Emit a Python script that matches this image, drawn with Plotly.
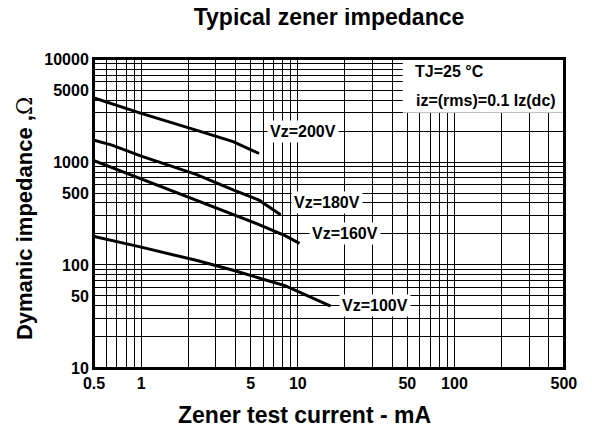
import math
import plotly.graph_objects as go

# ---- data ----
x_200 = [0.5, 1, 2.24, 3.86, 5.65]
y_200 = [4200, 2970, 2040, 1580, 1210]

x_180 = [0.5, 0.65, 1, 2.24, 3.86, 5.65, 7.77]
y_180 = [1630, 1460, 1140, 760, 537, 426, 307]

x_160 = [0.5, 1, 2.24, 3.86, 5.65, 8.35, 10.25]
y_160 = [1030, 682, 426, 307, 247, 192, 162]

x_100 = [0.5, 1, 2.24, 3.86, 5.79, 8.35, 16.2]
y_100 = [189, 149, 111, 89, 74, 62.6, 39.8]

series_names = ["Vz=200V", "Vz=180V", "Vz=160V", "Vz=100V"]

x_label_vals = [0.5, 1, 5, 10, 50, 100, 500]
x_label_text = ["0.5", "1", "5", "10", "50", "100", "500"]
x_grid_vals = [0.6, 0.7, 0.8, 0.9, 1, 2, 3, 4, 5, 6, 7, 8, 9, 10,
               20, 30, 40, 50, 60, 70, 80, 90, 100, 200, 300, 400]

y_label_vals = [10, 50, 100, 500, 1000, 5000, 10000]
y_label_text = ["10", "50", "100", "500", "1000", "5000", "10000"]
y_grid_vals = [10, 20, 30, 40, 50, 60, 70, 80, 90,
               100, 200, 300, 400, 500, 600, 700, 800, 900,
               1000, 2000, 3000, 4000, 5000, 6000, 7000, 8000, 9000, 10000]

# grid lines the curve labels sit on
label_y_vals = [2000, 400, 200, 40]

FONT = "Arial, Liberation Sans, sans-serif"

# the html page body has an 8px default margin; size the figure to fit the window
W, H, PAGE_OFFSET = 584, 424, 8


def ticks(grid, labels, texts):
    vals = sorted(set(grid) | set(labels))
    txt = [texts[labels.index(v)] if v in labels else "" for v in vals]
    return vals, txt


xtv, xtt = ticks(x_grid_vals, x_label_vals, x_label_text)
ytv, ytt = ticks(y_grid_vals, y_label_vals, y_label_text)

fig = go.Figure()
for xs, ys, name in [(x_200, y_200, series_names[0]), (x_180, y_180, series_names[1]),
                     (x_160, y_160, series_names[2]), (x_100, y_100, series_names[3])]:
    fig.add_trace(go.Scatter(x=xs, y=ys, mode="lines", name=name,
                             line=dict(color="black", width=3),
                             showlegend=False, hoverinfo="skip"))

fig.update_layout(
    width=W, height=H,
    margin=dict(l=94 - PAGE_OFFSET, r=W - (564 - PAGE_OFFSET), t=59 - PAGE_OFFSET,
                b=H - (368 - PAGE_OFFSET)),
    paper_bgcolor="white", plot_bgcolor="white",
    font=dict(family=FONT, color="black", size=16, weight="bold"),
    title=dict(text="Typical zener impedance", x=0.5, xref="paper", xanchor="center",
               y=1 - (17 - PAGE_OFFSET) / H, yref="container", yanchor="middle",
               font=dict(size=23, family=FONT, weight="bold")),
    xaxis=dict(type="log", range=[math.log10(0.5) - 0.0005, math.log10(500) + 0.0005],
               tickmode="array", tickvals=xtv, ticktext=xtt, automargin=False,
               showgrid=True, gridcolor="black", gridwidth=1,
               showline=True, linecolor="black", linewidth=2, mirror=True,
               ticks="", zeroline=False,
               tickfont=dict(size=16, family=FONT, weight="bold")),
    yaxis=dict(type="log", range=[1 - 0.0005, 4 + 0.0005],
               tickmode="array", tickvals=ytv, ticktext=ytt, automargin=False,
               showgrid=True, gridcolor="black", gridwidth=1,
               showline=True, linecolor="black", linewidth=2, mirror=True,
               ticks="", zeroline=False,
               tickfont=dict(size=16, family=FONT, weight="bold")),
)

# axis titles
fig.add_annotation(text="Zener test current - mA", xref="paper", yref="paper",
                   x=0.448, y=-0.152, xanchor="center", yanchor="middle", showarrow=False,
                   font=dict(size=23, family=FONT, weight="bold"))
fig.add_annotation(text="Dymanic impedance ,<span style='font-family:DejaVu Serif;font-weight:normal'>Ω</span>",
                   xref="paper", yref="paper", x=-0.149, y=0.485, textangle=-90,
                   xanchor="center", yanchor="middle", showarrow=False,
                   font=dict(size=22, family=FONT, weight="bold"))

# white box behind the test-condition note
fig.add_shape(type="rect", xref="paper", yref="paper",
              x0=0.657, x1=1, y0=(math.log10(3000) - 1) / 3, y1=1,
              fillcolor="white", line=dict(width=0), layer="above")
# plot border on top
fig.add_shape(type="rect", xref="paper", yref="paper", x0=0, x1=1, y0=0, y1=1,
              line=dict(color="black", width=2), fillcolor="rgba(0,0,0,0)", layer="above")

fig.add_annotation(text="TJ=25 °C", xref="paper", yref="paper", x=0.679, y=0.958,
                   xanchor="left", yanchor="middle", showarrow=False,
                   font=dict(size=16, family=FONT, weight="bold"))
fig.add_annotation(text="iz=(rms)=0.1 Iz(dc)", xref="paper", yref="paper", x=0.681, y=0.867,
                   xanchor="left", yanchor="middle", showarrow=False,
                   font=dict(size=16, family=FONT, weight="bold"))

label_x_paper = [0.4447, 0.4957, 0.534, 0.598]
for name, yv, xp in zip(series_names, label_y_vals, label_x_paper):
    fig.add_annotation(text=name, xref="paper", yref="y", x=xp, y=math.log10(yv),
                       xanchor="center", yanchor="middle", showarrow=False,
                       bgcolor="white", borderpad=2,
                       font=dict(size=16, family=FONT, weight="bold"))

fig.write_html("out.html")
